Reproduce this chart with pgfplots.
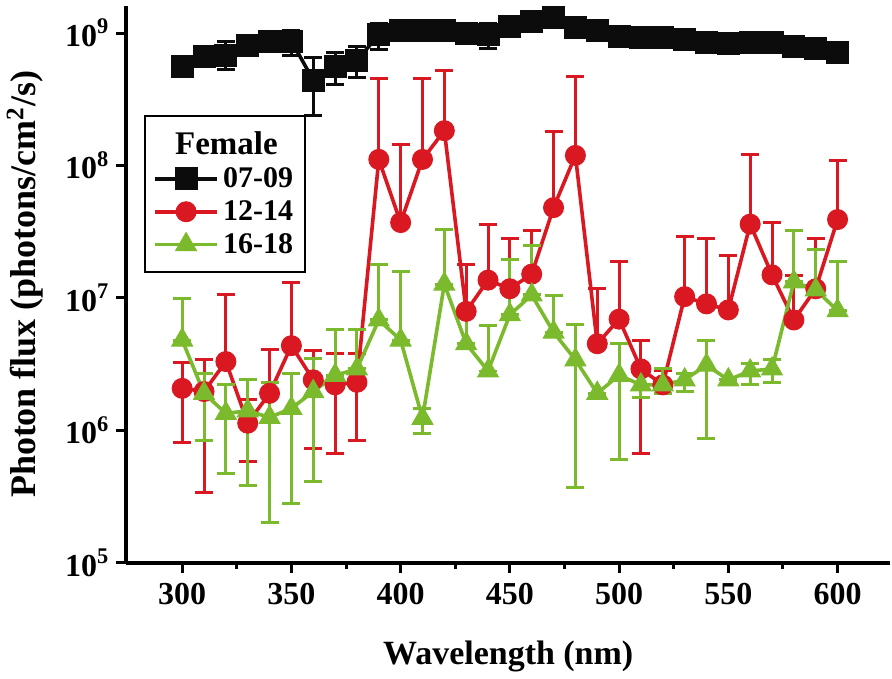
\documentclass[border=0pt]{standalone}
\usepackage{pgfplots}
\pgfplotsset{compat=1.18}
\usepackage{pgfplotstable}
\usepackage{fontspec}
\setmainfont{Liberation Serif}

\definecolor{cblack}{RGB}{12,12,12}
\definecolor{cred}{RGB}{218,24,34}
\definecolor{cgreen}{RGB}{122,186,44}

% x = wavelength (nm), y = flux, ep/em = upper/lower error
\pgfplotstableread{
x y ep em
300 5.6e8 0.9e8 0.8e8
310 6.7e8 0 0
320 6.8e8 1.9e8 1.5e8
330 8.1e8 0 0
340 8.7e8 0 0
350 8.7e8 1.8e8 1.9e8
360 4.4e8 2.1e8 2.0e8
370 5.6e8 1.5e8 1.5e8
380 6.2e8 1.7e8 1.6e8
390 9.7e8 2.2e8 2.2e8
400 1.05e9 0 0
410 1.05e9 0 0
420 1.05e9 0 0
430 1.0e9 0 0
440 9.8e8 2.1e8 2.1e8
450 1.12e9 0 0
460 1.22e9 0.8e8 0.8e8
470 1.31e9 1.8e8 1.6e8
480 1.1e9 0 0
490 1.05e9 0 0
500 9.4e8 0 0
510 9.3e8 0 0
520 9.2e8 0 0
530 8.9e8 0 0
540 8.5e8 0 0
550 8.4e8 0 0
560 8.5e8 0.6e8 0.6e8
570 8.5e8 0 0
580 7.9e8 0 0
590 7.6e8 0 0
600 7.1e8 0 0
}\blacktab

\pgfplotstableread{
x y ep em
300 2.07e6 1.2e6 1.26e6
310 1.96e6 1.44e6 1.62e6
320 3.3e6 7.2e6 0
330 1.13e6 0.57e6 0.55e6
340 1.9e6 2.2e6 0
350 4.35e6 8.65e6 0
360 2.4e6 1.6e6 1.67e6
370 2.2e6 1.6e6 1.53e6
380 2.3e6 1.5e6 1.47e6
390 1.11e8 3.39e8 0
400 3.7e7 1.07e8 0
410 1.11e8 3.39e8 0
420 1.83e8 3.37e8 0
430 7.9e6 1.01e7 0
440 1.36e7 2.24e7 0
450 1.17e7 1.63e7 0
460 1.51e7 1.69e7 0
470 4.8e7 1.32e8 0
480 1.19e8 3.51e8 0
490 4.5e6 7.2e6 0
500 6.9e6 1.18e7 0
510 2.9e6 1.9e6 2.23e6
520 2.2e6 0.6e6 0.3e6
530 1.02e7 1.88e7 0
540 9.0e6 1.9e7 0
550 8.1e6 1.29e7 0
560 3.6e7 8.5e7 0
570 1.49e7 2.21e7 0
580 6.8e6 8.0e6 0
590 1.17e7 1.63e7 0
600 3.9e7 7.0e7 0
}\redtab

\pgfplotstableread{
x y ep em
300 4.8e6 5.0e6 0
310 1.9e6 0.8e6 1.06e6
320 1.34e6 0.86e6 0.87e6
330 1.4e6 1.0e6 1.02e6
340 1.25e6 1.05e6 1.05e6
350 1.46e6 1.24e6 1.18e6
360 1.96e6 1.54e6 1.55e6
370 2.6e6 3.2e6 0
380 2.9e6 2.9e6 0
390 6.8e6 1.12e7 0
400 4.8e6 1.09e7 0
410 1.23e6 0.23e6 0.28e6
420 1.27e7 2.03e7 0
430 4.5e6 3.8e6 0
440 2.8e6 3.4e6 0
450 7.45e6 1.2e7 0
460 1.05e7 1.45e7 0
470 5.5e6 4.9e6 0
480 3.4e6 2.9e6 3.03e6
490 1.9e6 0 0
500 2.6e6 1.9e6 2.0e6
510 2.2e6 0.6e6 0.42e6
520 2.2e6 0.7e6 0.3e6
530 2.4e6 0.3e6 0.44e6
540 3.1e6 1.65e6 2.23e6
550 2.4e6 0 0
560 2.8e6 0.4e6 0.6e6
570 2.9e6 0.5e6 0.6e6
580 1.32e7 1.88e7 0
590 1.15e7 1.15e7 0
600 8.0e6 1.07e7 0
}\greentab

\begin{document}
\begin{tikzpicture}
\begin{axis}[
    scale only axis,
    width=382pt, height=278.5pt,
    xmin=274.5, xmax=624,
    ymode=log, log basis y=10,
    ymin=1e5, ymax=1.6e9,
    axis lines*=left,
    axis line style={line width=2pt, black},
    tick align=outside,
    major tick length=5pt, minor tick length=3pt,
    every tick/.style={line width=1.5pt, black},
    xtick={300,350,400,450,500,550,600},
    xticklabels={300,350,400,450,500,550,600},
    minor x tick num=1,
    ytick={1e5,1e6,1e7,1e8,1e9},
    yticklabel={\pgfmathparse{int(round(\tick))}\textbf{10\textsuperscript{\pgfmathresult}}},
    ticklabel style={font=\fontsize{16}{19}\selectfont\bfseries},
    xticklabel style={yshift=-2pt},
    xlabel={Wavelength (nm)},
    ylabel={Photon flux (photons/cm\textsuperscript{2}/s)},
    label style={font=\fontsize{17}{20}\selectfont\bfseries},
    ylabel style={font=\fontsize{18}{21}\selectfont\bfseries, yshift=4pt},
    xlabel style={yshift=-11pt},
    clip=false,
    legend style={at={(0.023,0.805)}, anchor=north west, draw=black, line width=1pt,
        font=\fontsize{15}{18}\selectfont\bfseries, inner xsep=4pt, inner ysep=6pt,
        row sep=1pt},
    legend cell align=left,
    legend image code/.code={\draw[mark repeat=2, mark phase=2, line width=1.8pt]
        plot coordinates {(0cm,0cm) (0.55cm,0cm) (1.1cm,0cm)};},
]
\addlegendimage{empty legend}
\addlegendentry{\hspace*{-24pt}\fontsize{16.5}{20}\selectfont Female}

\addplot[cblack, line width=1.8pt, mark=square*, mark size=5.5pt,
    mark options={solid, fill=cblack, line width=0.5pt},
    error bars/.cd, y dir=both, y explicit,
    error bar style={line width=1.5pt, cblack},
    error mark options={rotate=90, line width=1.5pt, mark size=4.5pt, cblack}]
    table[x=x, y=y, y error plus=ep, y error minus=em] {\blacktab};
\addlegendentry{07-09}

\addplot[cred, line width=1.8pt, mark=*, mark size=5pt,
    mark options={solid, fill=cred, line width=0.5pt},
    error bars/.cd, y dir=both, y explicit,
    error bar style={line width=1.5pt, cred},
    error mark options={rotate=90, line width=1.5pt, mark size=4.5pt, cred}]
    table[x=x, y=y, y error plus=ep, y error minus=em] {\redtab};
\addlegendentry{12-14}

\addplot[cgreen, line width=1.8pt, mark=triangle*, mark size=6pt,
    mark options={solid, fill=cgreen, line width=0.5pt},
    error bars/.cd, y dir=both, y explicit,
    error bar style={line width=1.5pt, cgreen},
    error mark options={rotate=90, line width=1.5pt, mark size=4.5pt, cgreen}]
    table[x=x, y=y, y error plus=ep, y error minus=em] {\greentab};
\addlegendentry{16-18}
\end{axis}
% a little white room above the axis, as in the reference
\path ([yshift=3pt]current axis.north);
\end{tikzpicture}
\end{document}
